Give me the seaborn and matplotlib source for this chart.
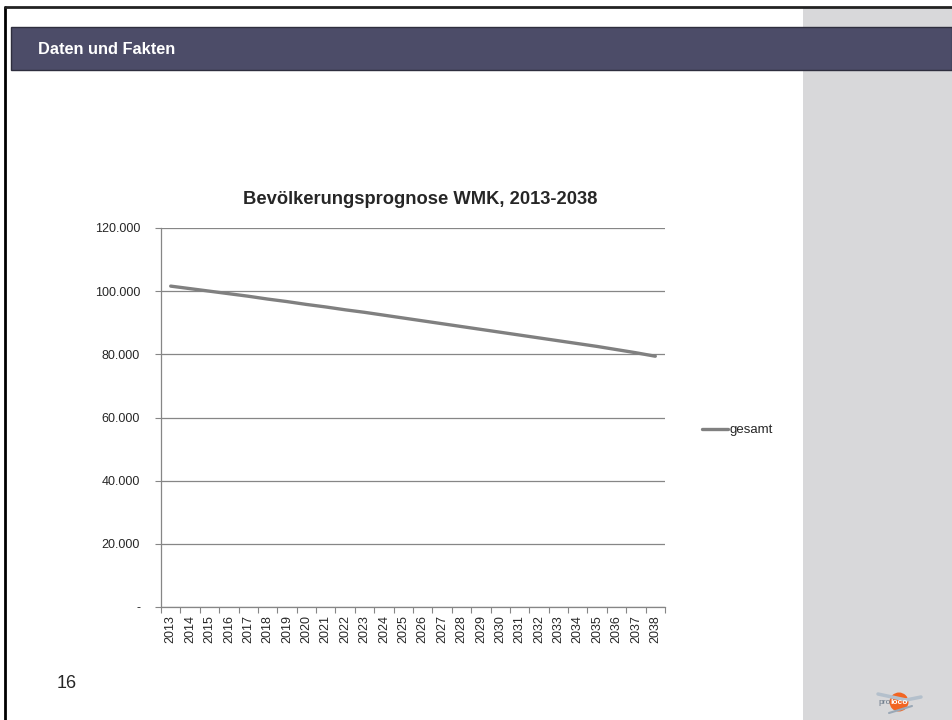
import numpy as np
import pandas as pd
import matplotlib
matplotlib.use('Agg')
import matplotlib.pyplot as plt
import seaborn as sns
from matplotlib.patches import Rectangle, Ellipse
from matplotlib.lines import Line2D
from matplotlib.ticker import FuncFormatter

sns.set_style('white')
plt.rcParams['font.family'] = ['Liberation Sans', 'DejaVu Sans']

years = [str(y) for y in range(2013, 2039)]
gesamt = [101600, 100800, 100000, 99200, 98400, 97500, 96700, 95800, 95000,
          94100, 93300, 92400, 91500, 90600, 89700, 88800, 87900, 87000,
          86100, 85200, 84300, 83400, 82500, 81500, 80500, 79400]
y_ticks = [0, 20000, 40000, 60000, 80000, 100000, 120000]

df = pd.DataFrame({'Jahr': years, 'gesamt': gesamt})

W, H = 952, 720
fig = plt.figure(figsize=(W / 100, H / 100), dpi=100)


def fx(x):
    return x / W


def fy(y):
    return 1 - y / H


# slide decoration
fig.add_artist(Rectangle((fx(803), 0), fx(W - 803), fy(7), transform=fig.transFigure,
                         facecolor='#d8d8da', edgecolor='none', zorder=0))
fig.add_artist(Line2D([fx(5), fx(5)], [0, fy(7)], transform=fig.transFigure,
                      color='black', lw=2))
fig.add_artist(Line2D([fx(5), 1], [fy(7), fy(7)], transform=fig.transFigure,
                      color='#222222', lw=2))
fig.add_artist(Rectangle((fx(11), fy(70)), fx(W - 11), fy(27) - fy(70), transform=fig.transFigure,
                         facecolor='#4c4c68', edgecolor='#2e2e3e', lw=1, zorder=1))
fig.text(fx(38), fy(49), 'Daten und Fakten', color='white', fontsize=11.8, fontweight='bold',
         ha='left', va='center')
fig.text(fx(57), fy(683), '16', fontsize=13, ha='left', va='center')

# logo
fig.add_artist(Line2D([fx(878), fx(906)], [fy(694), fy(700)], transform=fig.transFigure,
                      color='#b4c0cc', lw=2.5))
fig.add_artist(Line2D([fx(906), fx(921)], [fy(700), fy(697)], transform=fig.transFigure,
                      color='#b4c0cc', lw=2.5))
fig.add_artist(Line2D([fx(889), fx(912)], [fy(713), fy(706)], transform=fig.transFigure,
                      color='#9aa8b6', lw=1.5))
fig.add_artist(Ellipse((fx(899), fy(702)), fx(19), 19 / H, transform=fig.transFigure,
                       facecolor='#f26522', edgecolor='none'))
fig.text(fx(891), fy(702), 'pro', color='#6a7888', fontsize=6, ha='right', va='center')
fig.text(fx(899), fy(702), 'loco', color='white', fontsize=6, fontweight='bold',
         ha='center', va='center')

# chart
ax = fig.add_axes([fx(161), fy(607), fx(665 - 161), fy(228) - fy(607)])
sns.lineplot(data=df, x='Jahr', y='gesamt', ax=ax, color='#808080', linewidth=2.4,
             label='gesamt')

ax.set_xlim(-0.5, len(years) - 0.5)
ax.set_ylim(0, 120000)
ax.set_yticks(y_ticks)
ax.yaxis.set_major_formatter(FuncFormatter(
    lambda v, p: '-' if v == 0 else f'{int(v):,}'.replace(',', '.')))
ax.set_xticks(range(len(years)))
ax.set_xticklabels(years, rotation=90)
ax.set_xticks(np.arange(-0.5, len(years), 1), minor=True)
ax.tick_params(axis='x', which='major', length=0, pad=6, labelsize=9)
ax.tick_params(axis='x', which='minor', length=4, width=0.8, color='#868686', bottom=True)
ax.tick_params(axis='y', length=4, width=0.8, color='#868686', pad=11, labelsize=9, left=True)
ax.grid(axis='y', color='#868686', linewidth=0.9)
ax.set_axisbelow(True)
for s in ['top', 'right']:
    ax.spines[s].set_visible(False)
for s in ['left', 'bottom']:
    ax.spines[s].set_color('#868686')
    ax.spines[s].set_linewidth(0.9)
ax.set_xlabel('')
ax.set_ylabel('')

fig.text(fx(420), fy(199), 'Bevölkerungsprognose WMK, 2013-2038', fontsize=13.2,
         fontweight='bold', ha='center', va='center')

ax.legend(loc='center left', bbox_to_anchor=(fx(695), fy(430)), bbox_transform=fig.transFigure,
          frameon=False, fontsize=9.5, handlelength=2.0, handletextpad=0.1, borderpad=0)

fig.savefig('out.png', dpi=100)
